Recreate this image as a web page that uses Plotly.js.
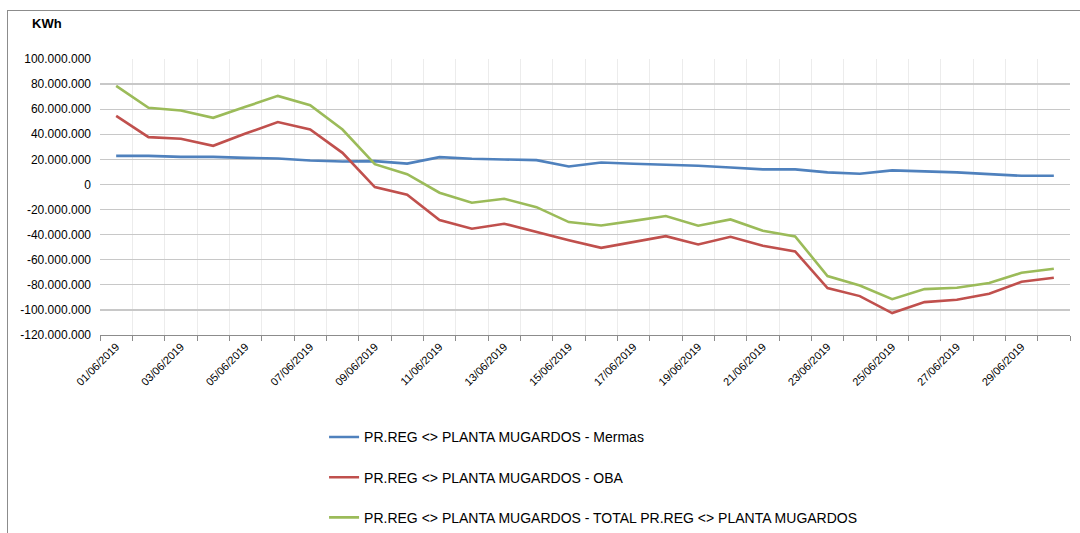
<!DOCTYPE html>
<html>
<head>
<meta charset="utf-8">
<script src="https://cdn.plot.ly/plotly-3.0.1.min.js"></script>
<style>
  html, body { margin: 0; padding: 0; background: #fff; }
  #wrap { position: relative; width: 1080px; height: 533px; overflow: hidden; }
  #chart { position: absolute; left: 0; top: 0; width: 1080px; height: 533px; }
  #frame { position: absolute; left: 7px; top: 10px; width: 1200px; height: 700px;
           border-top: 1.5px solid #8c8c8c; border-left: 1.5px solid #8c8c8c; pointer-events: none; }
</style>
</head>
<body>
<div id="wrap">
  <div id="chart"></div>
  <div id="frame"></div>
</div>
<script>
const dates = ["01/06/2019","02/06/2019","03/06/2019","04/06/2019","05/06/2019","06/06/2019","07/06/2019","08/06/2019","09/06/2019","10/06/2019",
               "11/06/2019","12/06/2019","13/06/2019","14/06/2019","15/06/2019","16/06/2019","17/06/2019","18/06/2019","19/06/2019","20/06/2019",
               "21/06/2019","22/06/2019","23/06/2019","24/06/2019","25/06/2019","26/06/2019","27/06/2019","28/06/2019","29/06/2019","30/06/2019"];

const mermas = [22800000,22800000,22000000,22000000,21200000,20700000,19100000,18300000,18600000,16600000,
                21800000,20500000,19900000,19400000,14300000,17500000,16500000,15900000,14900000,13500000,
                12000000,12000000,9600000,8500000,11200000,10400000,9600000,8200000,6900000,6900000];

const oba = [54700000,37700000,36400000,30800000,40600000,49700000,43800000,25200000,-2100000,-8200000,
             -28400000,-35300000,-31300000,-38000000,-44400000,-50500000,-45700000,-41200000,-47800000,-41700000,
             -48900000,-53400000,-82600000,-89000000,-102500000,-93800000,-91900000,-87100000,-77600000,-74400000];

const total = [78600000,61100000,59000000,53100000,61900000,70600000,63200000,43800000,16200000,8200000,
               -6600000,-14600000,-11400000,-18100000,-30000000,-32700000,-29000000,-25200000,-32900000,-27900000,
               -36900000,-41400000,-73000000,-80500000,-91400000,-83400000,-82300000,-78600000,-70400000,-67200000];

const seriesNames = ["PR.REG <> PLANTA MUGARDOS - Mermas",
                     "PR.REG <> PLANTA MUGARDOS - OBA",
                     "PR.REG <> PLANTA MUGARDOS - TOTAL PR.REG <> PLANTA MUGARDOS"];
const seriesColors = ["#4F81BD", "#C0504D", "#9BBB59"];

const yTickVals = [100000000,80000000,60000000,40000000,20000000,0,-20000000,-40000000,-60000000,-80000000,-100000000,-120000000];

function fmt(v) {
  const s = Math.abs(v).toString().replace(/\B(?=(\d{3})+(?!\d))/g, ".");
  return (v < 0 ? "-" : "") + s;
}
const yTickText = yTickVals.map(fmt);
const xTickText = dates.map((d, i) => i % 2 === 0 ? d : "");

const data = [mermas, oba, total].map((vals, k) => ({
  type: "scatter",
  mode: "lines",
  x: dates,
  y: vals,
  name: seriesNames[k],
  legendgroup: "g" + k,
  line: { color: seriesColors[k], width: 2.6 },
  hoverinfo: "x+y+name"
}));

const layout = {
  width: 1080,
  height: 533,
  margin: { l: 100, r: 10, t: 59, b: 198, autoexpand: false },
  paper_bgcolor: "#ffffff",
  plot_bgcolor: "#ffffff",
  font: { family: "Liberation Sans, Arial, sans-serif", size: 12, color: "#000" },
  showlegend: true,
  legend: {
    orientation: "v",
    x: 0.231, xanchor: "left",
    y: -0.313, yanchor: "top",
    font: { size: 14, color: "#000" },
    tracegroupgap: 19,
    itemwidth: 30,
    bgcolor: "rgba(0,0,0,0)"
  },
  xaxis: {
    type: "category",
    automargin: false,
    tickson: "boundaries",
    tickmode: "array",
    tickvals: dates,
    ticktext: xTickText,
    tickangle: -45,
    ticks: "outside",
    ticklen: 5,
    tickcolor: "#8c8c8c",
    showgrid: true,
    gridcolor: "#ececec",
    gridwidth: 1,
    showline: true,
    linecolor: "#8c8c8c",
    linewidth: 1,
    zeroline: false,
    tickfont: { size: 11 },
    range: [-0.5, 29.5],
    fixedrange: true
  },
  yaxis: {
    automargin: false,
    range: [-120000000, 100000000],
    tickmode: "array",
    tickvals: yTickVals,
    ticktext: yTickText,
    showgrid: true,
    gridcolor: "#c8c8c8",
    gridwidth: 1.2,
    zeroline: false,
    showline: false,
    ticks: "",
    ticklabelstandoff: 8,
    tickfont: { size: 12 },
    fixedrange: true
  },
  annotations: [{
    xref: "paper", yref: "paper",
    x: -0.055, y: 1.127,
    xanchor: "center", yanchor: "middle",
    text: "<b>KWh</b>",
    showarrow: false,
    font: { size: 13, color: "#000" }
  }]
};

Plotly.newPlot("chart", data, layout, { displayModeBar: false, staticPlot: true });
</script>
</body>
</html>
